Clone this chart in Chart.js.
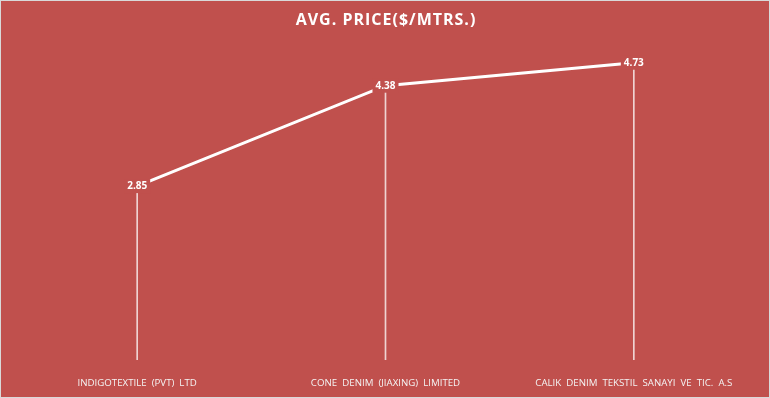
<!DOCTYPE html>
<html>
<head>
<meta charset="utf-8">
<script src="https://cdn.jsdelivr.net/npm/chart.js@4.4.1/dist/chart.umd.min.js"></script>
<style>
  html, body { margin: 0; padding: 0; background: #fff; }
  .wrap {
    width: 770px; height: 398px; box-sizing: border-box;
    border: 1px solid #d9d9d9; background: #C0504D;
  }
  .wrap canvas { display: block; }
</style>
</head>
<body>
<div class="wrap"><canvas id="priceChart" width="768" height="396"></canvas></div>
<script>
const chartTitle = 'AVG. PRICE($/MTRS.)';
const companies = [
    'INDIGOTEXTILE  (PVT)  LTD',
    'CONE  DENIM  (JIAXING)  LIMITED',
    'CALIK  DENIM  TEKSTIL  SANAYI  VE  TIC.  A.S'
];
const avgPrice = [2.85, 4.38, 4.73];

const bgColor = '#C0504D';

// title drawn by hand so it can get a bit of letter spacing
const spacedTitle = {
    id: 'spacedTitle',
    afterDraw(chart) {
        const ctx = chart.ctx;
        ctx.save();
        ctx.font = 'bold 16px "Open Sans", sans-serif';
        ctx.letterSpacing = '1px';
        ctx.fillStyle = '#ffffff';
        ctx.textAlign = 'center';
        ctx.textBaseline = 'middle';
        ctx.fillText(chartTitle, chart.width / 2 + 1, 19);
        ctx.restore();
    }
};

// labels sit on the points with a patch of background behind them
const pointLabels = {
    id: 'pointLabels',
    afterDatasetsDraw(chart) {
        const ctx = chart.ctx;
        const meta = chart.getDatasetMeta(1);
        ctx.save();
        ctx.font = 'bold 10px "Open Sans", sans-serif';
        ctx.textAlign = 'center';
        ctx.textBaseline = 'middle';
        meta.data.forEach((pt, i) => {
            const txt = avgPrice[i].toFixed(2);
            const w = ctx.measureText(txt).width;
            ctx.fillStyle = bgColor;
            ctx.fillRect(pt.x - w / 2 - 3, pt.y - 7, w + 6, 14);
            ctx.fillStyle = '#ffffff';
            ctx.fillText(txt, pt.x, pt.y);
        });
        ctx.restore();
    }
};

const ctx = document.getElementById('priceChart').getContext('2d');
new Chart(ctx, {
    data: {
        labels: companies,
        datasets: [
            {
                // drop lines
                type: 'bar',
                data: avgPrice,
                backgroundColor: 'rgba(255,255,255,0.75)',
                barThickness: 1,
                order: 2
            },
            {
                type: 'line',
                data: avgPrice,
                borderColor: '#ffffff',
                borderWidth: 3,
                pointRadius: 0,
                tension: 0,
                order: 1
            }
        ]
    },
    options: {
        responsive: false,
        animation: false,
        layout: { padding: { left: 12, right: 11, top: 44, bottom: 0 } },
        plugins: {
            legend: { display: false },
            tooltip: { enabled: false },
            title: { display: false }
        },
        scales: {
            x: {
                offset: true,
                grid: { display: false },
                border: { display: false },
                ticks: {
                    color: '#f4f4f4',
                    font: { family: '"Open Sans", sans-serif', size: 9.7 },
                    padding: 9,
                    maxRotation: 0,
                    autoSkip: false
                },
                afterFit(scale) { scale.height = 37; }
            },
            y: {
                display: false,
                min: 0.2,
                max: 5
            }
        }
    },
    plugins: [pointLabels, spacedTitle]
});
</script>
</body>
</html>
